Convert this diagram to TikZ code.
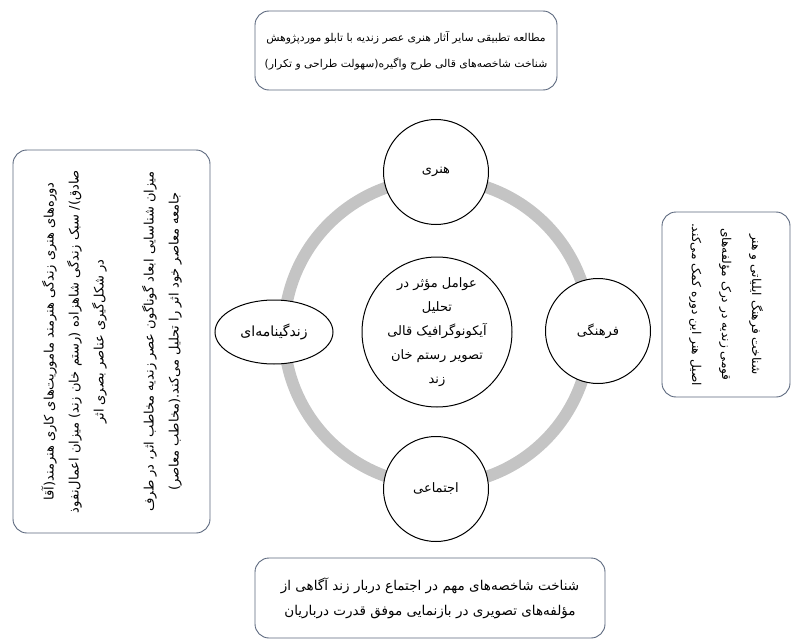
\documentclass[tikz,border=0pt]{standalone}
\usepackage{fontspec}
\newfontfamily\arabicfont[Script=Arabic]{DejaVu Sans}
\TeXXeTstate=1
\usetikzlibrary{shapes.geometric}
\newcommand{\fa}[1]{{\arabicfont\beginR #1\endR}}
\definecolor{rim}{RGB}{92,104,126}
\definecolor{ringgray}{RGB}{196,196,196}
\tikzset{
  box_/.style    = {shape=rectangle, draw=rim, line width=0.9pt, rounded corners=14pt,
                    align=center, fill=white, inner sep=0pt},
  aspect_/.style = {shape=circle, draw, line width=1pt, fill=white, align=center,
                    inner sep=0pt, minimum size=105pt, font=\fontsize{13}{16}\selectfont},
  core_/.style   = {shape=circle, draw, line width=1pt, fill=white, align=center,
                    inner sep=0pt, minimum size=150pt, font=\fontsize{13}{24}\selectfont},
  ring_/.style   = {draw=ringgray, line width=12pt}
}

\begin{document}
\begin{tikzpicture}
  [
  x                 = 1pt,
  y                 = -1pt,
  every node/.style = {font=\fontsize{10.5}{25}\selectfont}
  ]
  \useasboundingbox (0,0) rectangle (793,642);
  % centre and ring
  \node [core_] (core) at (437,332)
    {\fa{عوامل مؤثر در}\\\fa{تحلیل}\\\fa{آیکونوگرافیک قالی}\\\fa{تصویر رستم خان}\\\fa{زند}};
  \draw [ring_] (core.center) circle (153pt);
  % four aspects on the ring
  \node [aspect_] (art) at (436,172) {\fa{هنری}};
  \node [aspect_] (culture) at (598,331) {\fa{فرهنگی}};
  \node [aspect_] (society) at (436,489) {\fa{اجتماعی}};
  \node [aspect_, shape=ellipse, minimum size=0pt, font=\fontsize{14}{16}\selectfont,
         minimum width=118pt, minimum height=64pt] (bio) at (274,332) {\fa{زندگینامه‌ای}};
  % explanation boxes
  \node [box_, minimum width=302pt, minimum height=79pt, font=\fontsize{10.8}{26}\selectfont]
    (artbox) at (406,50.5)
    {\fa{مطالعه تطبیقی سایر آثار هنری عصر زندیه با تابلو موردپژوهش}\\
     \fa{شناخت شاخصه‌های قالی طرح واگیره(سهولت طراحی و تکرار)}};
  \node [box_, minimum width=185pt, minimum height=128pt, rotate=-90,
         font=\fontsize{12.2}{30}\selectfont]
    (culturebox) at (726,304.5)
    {\fa{شناخت فرهنگ ایلیاتی و هنر}\\
     \fa{قومی زندیه در درک مؤلفه‌های}\\
     \fa{اصیل هنر این دوره کمک می‌کند.}};
  \node [box_, minimum width=350pt, minimum height=80pt, font=\fontsize{13.5}{25}\selectfont]
    (societybox) at (430,598)
    {\fa{شناخت شاخصه‌های مهم در اجتماع دربار زند آگاهی از}\\
     \fa{مؤلفه‌های تصویری در بازنمایی موفق قدرت درباریان}};
  \node [box_, minimum width=383pt, minimum height=197pt, rotate=90,
         font=\fontsize{13}{25}\selectfont]
    (biobox) at (111.5,341.5)
    {\fa{دوره‌های هنری زندگی هنرمند ماموریت‌های کاری هنرمند(آقا}\\
     \fa{صادق)/ سبک زندگی شاهزاده (رستم خان زند) میزان اعمال‌نفوذ}\\
     \fa{در شکل‌گیری عناصر بصری اثر}\\[25pt]
     \fa{میزان شناسایی ابعاد گوناگون عصر زندیه مخاطب اثر، در طرف}\\
     \fa{جامعه معاصر خود اثر را تحلیل می‌کند.(مخاطب معاصر)}};
\end{tikzpicture}
\end{document}
